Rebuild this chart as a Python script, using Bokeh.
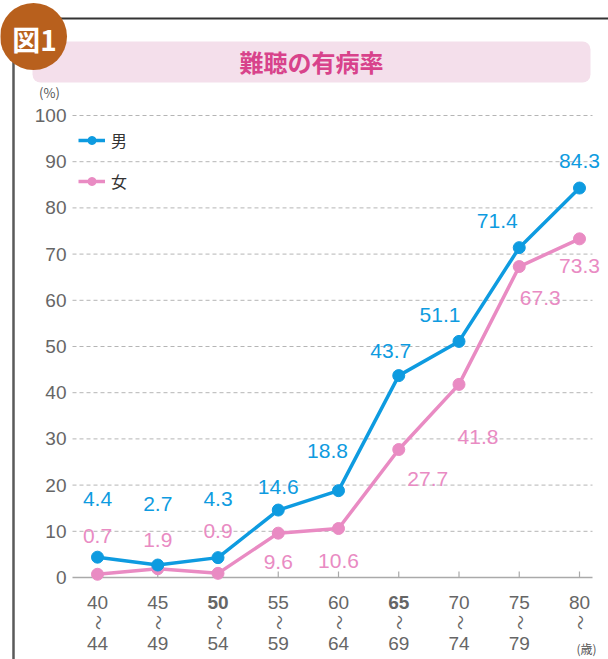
import math
from bokeh.plotting import figure
from bokeh.models import ColumnDataSource, Range1d, BoxAnnotation, Legend, LegendItem
from bokeh.core.properties import value
from bokeh.embed import file_html
from bokeh.resources import INLINE

# ---------------- data ----------------
age_from = ["40", "45", "50", "55", "60", "65", "70", "75", "80"]
age_to = ["44", "49", "54", "59", "64", "69", "74", "79", ""]
age_bold = [False, False, True, False, False, True, False, False, False]
male = [4.4, 2.7, 4.3, 14.6, 18.8, 43.7, 51.1, 71.4, 84.3]
female = [0.7, 1.9, 0.9, 9.6, 10.6, 27.7, 41.8, 67.3, 73.3]
y_ticks = [0, 10, 20, 30, 40, 50, 60, 70, 80, 90, 100]
title = "難聴の有病率"
series_names = ["男", "女"]

# label offsets (screen px) -- layout only
male_off_x = [0, 0, 0, 0, -11, -8, -19, -22, 0]
male_off_y = [-58, -61, -59, -23, -40, -25, -26, -27, -27]
female_off_x = [0, 0, 0, 0, 0, 29, 19, 21, 0]
female_off_y = [-38, -29, -42, 29, 32, 29, 53, 31, 27]

# ---------------- layout helpers ----------------
W, H = 608, 659
X0PX, XSTEP = 97.0, 60.25
Y0PX, YSCALE = 577.0, 4.62


def dx(px):
    return (px - X0PX) / XSTEP


def dy(py):
    return (Y0PX - py) / YSCALE


BLUE = "#0e9be0"
PINK = "#e98bc3"
GRAY = "#666666"
FONT = "Noto Sans CJK JP"
NUMFONT = "Liberation Sans"

p = figure(width=W, height=H, x_range=Range1d(dx(0), dx(W)), y_range=Range1d(dy(H), dy(0)),
           output_backend="svg", toolbar_location=None, min_border=0,
           x_axis_location=None, y_axis_location=None, outline_line_color=None)
p.grid.visible = False
p.background_fill_color = "white"
p.border_fill_color = "white"

xs = list(range(len(age_from)))

# frame lines
p.segment(x0=[dx(55)], y0=[dy(18)], x1=[dx(608)], y1=[dy(18)], line_color="#333333", line_width=2)
p.segment(x0=[dx(13)], y0=[dy(60)], x1=[dx(13)], y1=[dy(659)], line_color="#5a5a5a", line_width=2.5)

# title box
p.add_layout(BoxAnnotation(left=dx(32), right=dx(590), top=dy(41), bottom=dy(82),
                           fill_color="#f4dfeb", fill_alpha=1, line_color=None, border_radius=8,
                           level="underlay"))
p.text(x=[dx(311)], y=[dy(61)], text=[title], text_font=value(FONT), text_font_style="bold",
       text_font_size="24px", text_color="#d8438b", text_align="center", text_baseline="middle")

# badge
p.scatter(x=[dx(33)], y=[dy(36)], size=67, marker="circle", fill_color="#b8601d", line_color=None)
p.text(x=[dx(34)], y=[dy(38)], text=["図1"], text_font=value(FONT), text_font_style="bold",
       text_font_size="28px", text_color="white", text_align="center", text_baseline="middle")

# grid
grid_y = [t for t in y_ticks if t > 0]
p.segment(x0=[dx(72)] * len(grid_y), y0=grid_y, x1=[dx(592)] * len(grid_y), y1=grid_y,
          line_color="#b5b5b5", line_width=1, line_dash="4 3")
p.segment(x0=[dx(72)], y0=[0], x1=[dx(592)], y1=[0], line_color="#aaaaaa", line_width=1.5)
# x ticks (upward)
p.segment(x0=xs, y0=[0] * len(xs), x1=xs, y1=[dy(571)] * len(xs), line_color="#aaaaaa", line_width=1.2)

# y tick labels
p.text(x=[dx(66)] * len(y_ticks), y=y_ticks, text=[str(t) for t in y_ticks],
       text_font=value(NUMFONT), text_font_size="19px", text_color=GRAY,
       text_align="right", text_baseline="middle")
p.text(x=[dx(49)], y=[dy(92)], text=["(%)"], text_font=value(FONT), text_font_size="13px",
       text_color="#555555", text_align="center", text_baseline="middle")

# x tick labels
xl = ColumnDataSource(dict(x=xs, t=age_from, b=age_to,
                           st=["bold" if b else "normal" for b in age_bold],
                           w=["〜"] * len(xs)))
p.text(x="x", y=dy(602), text="t", source=xl, text_font=value(NUMFONT), text_font_style="st",
       text_font_size="19px", text_color=GRAY, text_align="center", text_baseline="middle")
p.text(x="x", y=dy(622), text="w", source=xl, text_font=value(FONT), angle=math.pi / 2,
       text_font_size="15px", text_color=GRAY, text_align="center", text_baseline="middle")
p.text(x="x", y=dy(643), text="b", source=xl, text_font=value(NUMFONT),
       text_font_size="19px", text_color=GRAY, text_align="center", text_baseline="middle")
p.text(x=[dx(586)], y=[dy(648)], text=["(歳)"], text_font=value(FONT), text_font_size="12px",
       text_color="#555555", text_align="center", text_baseline="middle")

# series
fs = ColumnDataSource(dict(x=xs, y=female, lab=[f"{v:.1f}" for v in female], ox=female_off_x, oy=female_off_y))
ms = ColumnDataSource(dict(x=xs, y=male, lab=[f"{v:.1f}" for v in male], ox=male_off_x, oy=male_off_y))

fl = p.line("x", "y", source=fs, line_color=PINK, line_width=3.5)
fc = p.scatter("x", "y", source=fs, size=12, marker="circle", fill_color=PINK, line_color=PINK)
ml = p.line("x", "y", source=ms, line_color=BLUE, line_width=3.5)
mc = p.scatter("x", "y", source=ms, size=12, marker="circle", fill_color=BLUE, line_color=BLUE)

p.text(x="x", y="y", text="lab", source=ms, x_offset="ox", y_offset="oy", text_font=value(NUMFONT),
       text_font_size="21px", text_color=BLUE, text_align="center", text_baseline="middle")
p.text(x="x", y="y", text="lab", source=fs, x_offset="ox", y_offset="oy", text_font=value(NUMFONT),
       text_font_size="21px", text_color=PINK, text_align="center", text_baseline="middle")

legend = Legend(items=[LegendItem(label=series_names[0], renderers=[ml, mc]),
                       LegendItem(label=series_names[1], renderers=[fl, fc])],
                location=(78, 466), glyph_width=27, glyph_height=20, label_height=20,
                spacing=17, padding=0,
                margin=0, label_standoff=6, label_text_font=FONT, label_text_font_size="16px",
                label_text_color="#333333", background_fill_alpha=0, border_line_color=None)
p.add_layout(legend, "center")

open("out.html", "w").write(file_html(p, INLINE))
